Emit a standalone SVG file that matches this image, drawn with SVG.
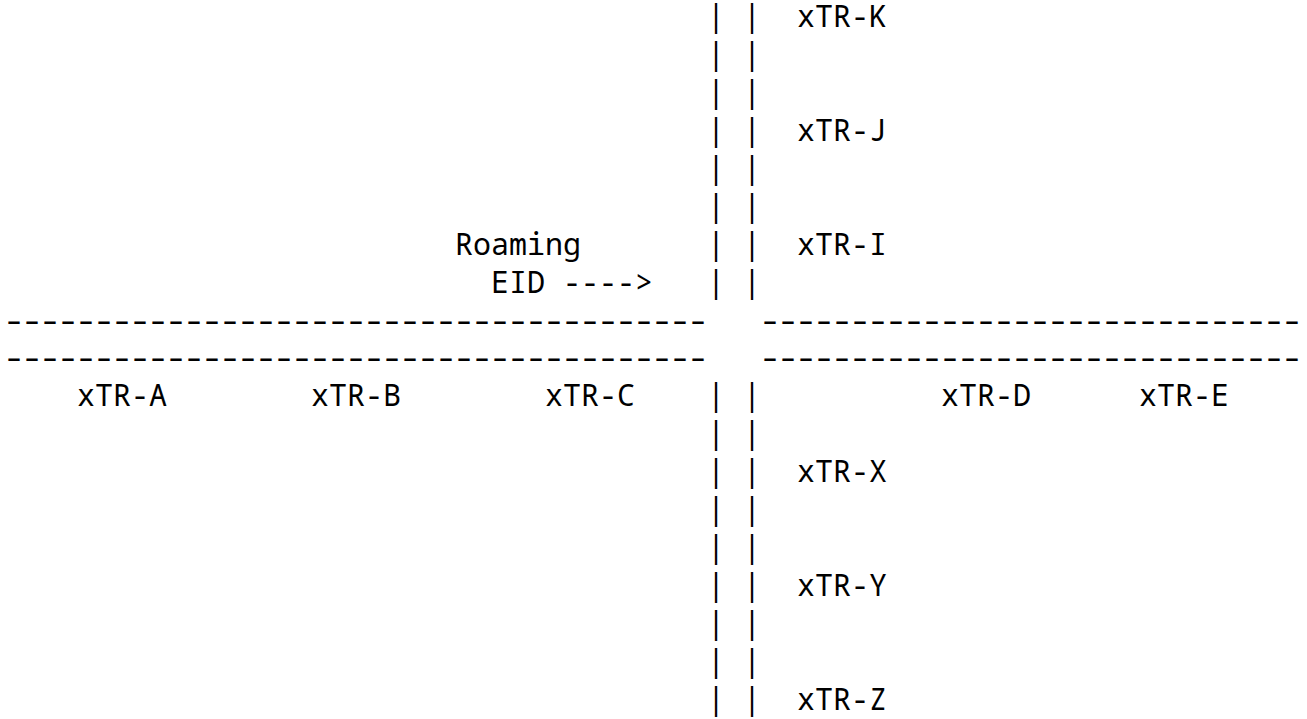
<svg xmlns="http://www.w3.org/2000/svg" width="1307" height="719" viewBox="0 0 1307 719">
<style>
  text { font-family: "Noto Sans Mono", "DejaVu Sans Mono", monospace; font-size: 30px; fill: #000; }
</style>
<defs>
  <text id="sep-left" x="2.2 16.6 31 45.4 59.8 74.2 88.6 103 117.4 131.8 146.2 160.6 175 189.4 203.8 218.2 232.6 247 261.4 275.8 290.2 304.6 319 333.4 347.8 362.2 376.6 391 405.4 419.8 434.2 448.6 463 477.4 491.8 506.2 520.6 535 549.4">---------------------------------------</text>
  <text id="sep-right" x="607 621.4 635.8 650.2 664.6 679 693.4 707.8 722.2 736.6 751 765.4 779.8 794.2 808.6 823 837.4 851.8 866.2 880.6 895 909.4 923.8 938.2 952.6 967 981.4 995.8 1010.2 1024.6">------------------------------</text>
</defs>
<rect width="1307" height="719" fill="#fff"/>
<g id="connectors">
  <g id="vertical-link">
    <text x="707" y="27.3" textLength="54">| |</text>
    <text x="707" y="65.2" textLength="54">| |</text>
    <text x="707" y="103.1" textLength="54">| |</text>
    <text x="707" y="141.0" textLength="54">| |</text>
    <text x="707" y="178.9" textLength="54">| |</text>
    <text x="707" y="216.8" textLength="54">| |</text>
    <text x="707" y="254.7" textLength="54">| |</text>
    <text x="707" y="292.6" textLength="54">| |</text>
    <text x="707" y="406.3" textLength="54">| |</text>
    <text x="707" y="444.2" textLength="54">| |</text>
    <text x="707" y="482.1" textLength="54">| |</text>
    <text x="707" y="520.0" textLength="54">| |</text>
    <text x="707" y="557.9" textLength="54">| |</text>
    <text x="707" y="595.8" textLength="54">| |</text>
    <text x="707" y="633.7" textLength="54">| |</text>
    <text x="707" y="671.6" textLength="54">| |</text>
    <text x="707" y="709.5" textLength="54">| |</text>
  </g>
  <g id="horizontal-link">
    <g transform="translate(0,330.5) scale(1.25,1)"><use href="#sep-left"/><use href="#sep-right"/></g>
    <g transform="translate(0,368.4) scale(1.25,1)"><use href="#sep-left"/><use href="#sep-right"/></g>
  </g>
</g>
<g id="xtr-k"><text x="797" y="27.3" textLength="90">xTR-K</text></g>
<g id="xtr-j"><text x="797" y="141.0" textLength="90">xTR-J</text></g>
<g id="xtr-i"><text x="797" y="254.7" textLength="90">xTR-I</text></g>
<g id="roaming-eid">
  <text x="455" y="254.7" textLength="126">Roaming</text>
  <text x="491" y="292.6" textLength="162">EID ----&gt;</text>
</g>
<g id="xtr-a"><text x="77" y="406.3" textLength="90">xTR-A</text></g>
<g id="xtr-b"><text x="311" y="406.3" textLength="90">xTR-B</text></g>
<g id="xtr-c"><text x="545" y="406.3" textLength="90">xTR-C</text></g>
<g id="xtr-d"><text x="941" y="406.3" textLength="90">xTR-D</text></g>
<g id="xtr-e"><text x="1139" y="406.3" textLength="90">xTR-E</text></g>
<g id="xtr-x"><text x="797" y="482.1" textLength="90">xTR-X</text></g>
<g id="xtr-y"><text x="797" y="595.8" textLength="90">xTR-Y</text></g>
<g id="xtr-z"><text x="797" y="709.5" textLength="90">xTR-Z</text></g>
</svg>
